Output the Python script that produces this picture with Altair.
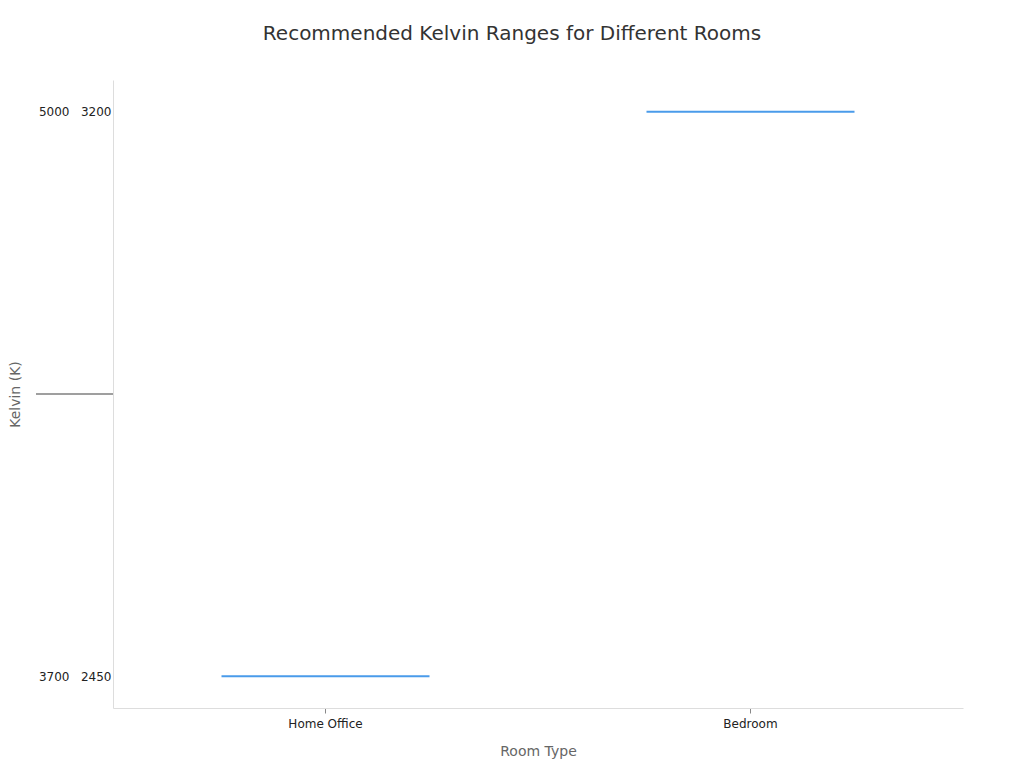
import altair as alt
import pandas as pd

rooms = ["Home Office", "Bedroom"]
kelvin_min = [3700, 2450]
kelvin_max = [5000, 3200]

NB = "\u00a0"
sep = NB * 3
top_label = sep.join(str(v) for v in kelvin_max)
bottom_label = sep.join(str(v) for v in kelvin_min)

df = pd.DataFrame({
    "Room Type": rooms,
    "row": [bottom_label, top_label],
    "Min": kelvin_min,
    "Max": kelvin_max,
})

font = "DejaVu Sans"

ticks = alt.Chart(df).mark_tick(
    orient="horizontal", size=208, thickness=2, color="#4a9bea", opacity=1
).encode(
    x=alt.X("Room Type:N", sort=rooms,
            scale=alt.Scale(paddingInner=0.5, paddingOuter=0.25),
            axis=alt.Axis(labelAngle=0, title="Room Type")),
    y=alt.Y("row:N", sort=[top_label, bottom_label],
            scale=alt.Scale(type="point", padding=0.056),
            axis=alt.Axis(title="Kelvin (K)", ticks=False, titlePadding=16)),
)

mid = alt.Chart(df).mark_rule(color="#999999", strokeWidth=1.5, clip=False).encode(
    x=alt.value(-77), x2=alt.value(0), y=alt.value(314)
)

chart = alt.layer(mid, ticks).properties(
    width=850, height=628,
    title=alt.TitleParams("Recommended Kelvin Ranges for Different Rooms",
                          fontSize=20, font=font, color="#333333",
                          fontWeight="normal", offset=36, dx=-26),
    padding={"left": 0, "top": 16, "right": 10, "bottom": 5},
).configure_view(stroke=None).configure_axis(
    labelFont=font, titleFont=font, labelFontSize=12, titleFontSize=14,
    labelColor="#222222", titleColor="#666666", titleFontWeight="normal",
    domainColor="#dddddd", tickColor="#888888", grid=False, labelPadding=2,
).configure_axisX(titlePadding=15, labelPadding=5, tickSize=5)

chart.save("out.html", embed_options={"renderer": "svg", "actions": False})
